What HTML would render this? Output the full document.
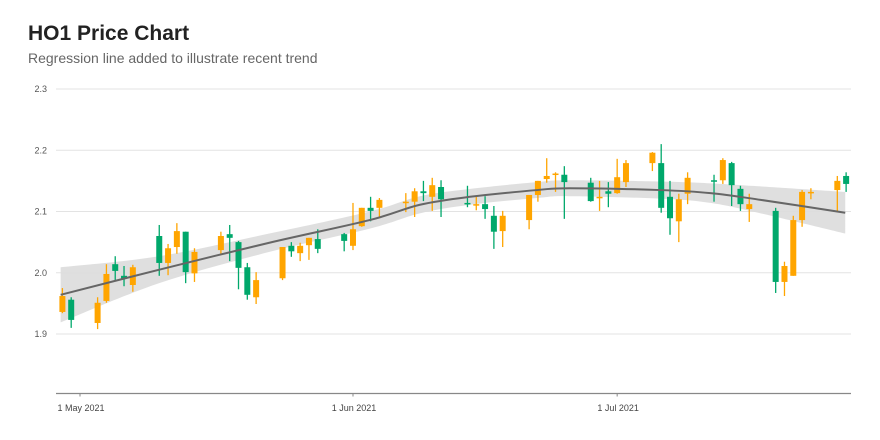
<!DOCTYPE html>
<html><head><meta charset="utf-8"><style>
body{margin:0;background:#fff;font-family:"Liberation Sans",sans-serif;}
#wrap{position:relative;width:880px;height:440px;overflow:hidden;}
h1{position:absolute;left:28px;top:22px;margin:0;font-size:21px;font-weight:bold;color:#222;}
p.sub{position:absolute;left:28px;top:50px;margin:0;font-size:14px;color:#666;}
svg{position:absolute;left:0;top:0;}
</style></head><body>
<div id="wrap">
<h1>HO1 Price Chart</h1>
<p class="sub">Regression line added to illustrate recent trend</p>
<svg id="chart" width="880" height="440"></svg>
</div>
<script>
// day offsets from 1 May 2021
const days = [-2,-1,2,3,4,5,6,9,10,11,12,13,16,17,18,19,20,23,24,25,26,27,30,31,32,33,34,37,38,39,40,41,44,45,46,47,48,51,52,53,54,55,58,59,60,61,62,65,66,67,68,69,72,73,74,75,76,79,80,81,82,83,86,87];
const opens = [1.936,1.956,1.918,1.954,2.014,1.995,1.980,2.060,2.016,2.042,2.067,1.999,2.037,2.063,2.050,2.009,1.960,1.991,2.044,2.032,2.045,2.055,2.063,2.044,2.076,2.106,2.106,2.114,2.116,2.133,2.124,2.140,2.114,2.111,2.112,2.093,2.068,2.086,2.127,2.153,2.161,2.160,2.147,2.122,2.133,2.130,2.148,2.179,2.179,2.124,2.084,2.129,2.151,2.151,2.179,2.137,2.104,2.101,1.985,1.995,2.086,2.130,2.135,2.158];
const highs = [1.975,1.960,1.960,2.014,2.027,2.011,2.013,2.078,2.047,2.081,2.067,2.040,2.067,2.078,2.052,2.016,2.001,2.042,2.050,2.049,2.057,2.071,2.065,2.114,2.106,2.124,2.122,2.130,2.138,2.150,2.155,2.151,2.142,2.125,2.125,2.109,2.101,2.127,2.150,2.187,2.164,2.174,2.155,2.150,2.148,2.186,2.184,2.197,2.210,2.150,2.129,2.164,2.160,2.187,2.181,2.142,2.129,2.106,2.018,2.093,2.135,2.138,2.158,2.164];
const lows = [1.934,1.910,1.908,1.951,1.988,1.978,1.969,1.995,1.996,2.031,1.983,1.985,2.031,2.019,1.973,1.956,1.949,1.988,2.026,2.019,2.021,2.032,2.035,2.037,2.075,2.084,2.091,2.099,2.091,2.117,2.101,2.091,2.107,2.102,2.088,2.039,2.042,2.071,2.116,2.147,2.132,2.088,2.116,2.101,2.107,2.129,2.140,2.166,2.098,2.062,2.050,2.112,2.116,2.145,2.109,2.101,2.083,1.967,1.962,1.995,2.075,2.120,2.099,2.132];
const closes = [1.962,1.923,1.951,1.998,2.003,1.990,2.009,2.016,2.040,2.068,2.001,2.034,2.060,2.057,2.008,1.964,1.988,2.042,2.035,2.044,2.057,2.039,2.052,2.071,2.106,2.101,2.119,2.116,2.133,2.130,2.143,2.120,2.112,2.112,2.104,2.067,2.093,2.127,2.150,2.158,2.162,2.148,2.117,2.124,2.129,2.156,2.179,2.196,2.106,2.089,2.120,2.155,2.150,2.184,2.143,2.112,2.112,1.985,2.011,2.086,2.132,2.132,2.150,2.145];
// regression trend
const trendDays = [-2.2,9,21.5,32.9,38.6,44.3,51.9,55.6,65.9,71.6,77.3,86.9];
const trendVals = [1.964,2.005,2.049,2.086,2.111,2.124,2.135,2.138,2.135,2.130,2.119,2.098];
const trendBand = [0.045,0.022,0.015,0.014,0.014,0.013,0.013,0.013,0.014,0.016,0.022,0.034];
const yTicks = [1.9,2.0,2.1,2.2,2.3];
const yTickLabels = ["1.9","2.0","2.1","2.2","2.3"];
const xTickDays = [0,31,61];
const xTickLabels = ["1 May 2021","1 Jun 2021","1 Jul 2021"];

const NS="http://www.w3.org/2000/svg";
const svg=document.getElementById('chart');
const X0=56,X1=851,AXY=393.5;
function xs(d){return 80+d*8.806;}
function ys(v){return 89+(2.3-v)*612.5;}
function mk(tag,attrs,parent){const e=document.createElementNS(NS,tag);for(const k in attrs)e.setAttribute(k,attrs[k]);(parent||svg).appendChild(e);return e;}

yTicks.forEach((t,i)=>{
  const g=mk('line',{x1:X0,x2:X1,y1:ys(t),y2:ys(t),stroke:'#e3e3e3','stroke-width':1});
  
  
  const l=mk('text',{x:47,y:ys(t)+3,'text-anchor':'end','font-size':9,fill:'#555','font-family':'Liberation Sans, sans-serif'});
  l.textContent=yTickLabels[i];
  
  
});
const ax=mk('line',{x1:X0,x2:X1,y1:AXY,y2:AXY,stroke:'#888','stroke-width':1.2});


xTickDays.forEach((d,i)=>{
  const t=mk('line',{x1:xs(d),x2:xs(d),y1:AXY,y2:AXY+3,stroke:'#888'});
  
  
  const l=mk('text',{x:xs(d)+1,y:411,'text-anchor':'middle','font-size':9,fill:'#444','font-family':'Liberation Sans, sans-serif'});
  l.textContent=xTickLabels[i];
  
  
});

function smooth(pts){
  let d='M'+pts[0][0]+','+pts[0][1];
  for(let i=0;i<pts.length-1;i++){
    const p0=pts[Math.max(0,i-1)],p1=pts[i],p2=pts[i+1],p3=pts[Math.min(pts.length-1,i+2)];
    const c1=[p1[0]+(p2[0]-p0[0])/6,p1[1]+(p2[1]-p0[1])/6];
    const c2=[p2[0]-(p3[0]-p1[0])/6,p2[1]-(p3[1]-p1[1])/6];
    d+=' C'+c1[0]+','+c1[1]+' '+c2[0]+','+c2[1]+' '+p2[0]+','+p2[1];
  }
  return d;
}
const up=trendDays.map((d,i)=>[xs(d),ys(trendVals[i]+trendBand[i])]);
const lo=trendDays.map((d,i)=>[xs(d),ys(trendVals[i]-trendBand[i])]).reverse();
const bandPath=smooth(up)+' L'+lo[0][0]+','+lo[0][1]+smooth(lo).slice(smooth(lo).indexOf(' '))+' Z';
const band=mk('path',{d:bandPath,fill:'#dcdcdc','fill-opacity':0.9});



const cg=mk('g',{});


days.forEach((d,i)=>{
  const o=opens[i],c=closes[i],isUp=c>=o;
  const col=isUp?'#ffa500':'#00a86b';
  const x=xs(d);
  const g=mk('g',{},cg);
  
  
  mk('line',{x1:x,x2:x,y1:ys(highs[i]),y2:ys(lows[i]),stroke:col,'stroke-width':1.3},g);
  const top=ys(Math.max(o,c)),bot=ys(Math.min(o,c));
  mk('rect',{x:x-3,y:top,width:6,height:Math.max(1.5,bot-top),fill:col},g);
});

const tl=mk('path',{d:smooth(trendDays.map((d,i)=>[xs(d),ys(trendVals[i])])),fill:'none',stroke:'#666','stroke-width':2});


</script>
</body></html>
